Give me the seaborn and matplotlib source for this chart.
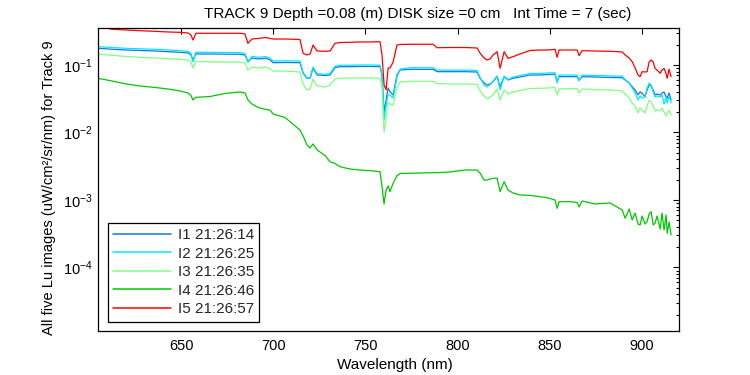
import numpy as np
import pandas as pd
import matplotlib
matplotlib.use("Agg")
import matplotlib.pyplot as plt
import seaborn as sns
from matplotlib.lines import Line2D
from matplotlib.ticker import LogLocator, NullFormatter, LogFormatterSciNotation

# ---------------- data ----------------
wavelength_nm = [605.0, 612.6, 620.2, 627.8, 635.9, 643.0, 649.5, 653.8, 655.4, 656.5,
                 658.1, 665.7, 673.9, 682.0, 684.7, 686.3, 688.5, 691.8, 696.1, 698.3,
                 699.9, 706.4, 714.5, 716.2, 718.3, 720.0, 721.6, 723.8, 728.1, 730.8,
                 733.5, 736.2, 741.6, 747.1, 752.5, 757.9, 759.0, 760.1, 761.2, 762.3,
                 763.3, 765.0, 767.1, 768.8, 774.2, 779.6, 786.7, 788.8, 795.9, 804.0,
                 810.5, 812.2, 814.3, 815.9, 817.6, 819.2, 821.4, 823.0, 825.2, 827.3,
                 830.0, 833.8, 839.3, 844.7, 849.0, 852.8, 853.9, 855.0, 861.0, 864.8,
                 865.8, 867.5, 874.5, 882.6, 889.2, 890.8, 893.0, 894.6, 896.2, 897.8,
                 898.9, 900.0, 901.6, 902.7, 903.8, 904.9, 906.0, 907.0, 908.1, 909.8,
                 910.8, 911.9, 913.0, 913.6, 914.6, 915.7]

# log10 of Lu (uW/cm^2/sr/nm)
log10_i1 = [-0.753, -0.766, -0.778, -0.785, -0.793, -0.803, -0.812, -0.822, -0.852, -0.926,
            -0.837, -0.837, -0.840, -0.841, -0.852, -0.951, -0.896, -0.911, -0.901, -0.926,
            -0.966, -0.963, -0.966, -1.123, -1.197, -1.193, -1.049, -1.148, -1.156, -1.148,
            -1.040, -1.025, -1.025, -1.022, -1.022, -1.025, -1.148, -1.696, -1.519, -1.341,
            -1.396, -1.444, -1.148, -1.074, -1.064, -1.064, -1.064, -1.099, -1.099, -1.099,
            -1.104, -1.197, -1.267, -1.296, -1.281, -1.247, -1.173, -1.321, -1.173, -1.222,
            -1.197, -1.178, -1.148, -1.148, -1.141, -1.138, -1.247, -1.173, -1.173, -1.173,
            -1.222, -1.173, -1.178, -1.185, -1.188, -1.222, -1.267, -1.321, -1.370, -1.444,
            -1.400, -1.419, -1.470, -1.370, -1.296, -1.311, -1.370, -1.444, -1.430, -1.444,
            -1.415, -1.400, -1.474, -1.489, -1.415, -1.519]

log10_i2 = [-0.728, -0.741, -0.753, -0.760, -0.768, -0.778, -0.787, -0.797, -0.830, -0.956,
            -0.812, -0.812, -0.815, -0.816, -0.830, -0.960, -0.871, -0.886, -0.876, -0.901,
            -0.941, -0.938, -0.941, -1.110, -1.190, -1.190, -1.030, -1.130, -1.136, -1.128,
            -1.020, -1.003, -1.003, -1.000, -1.000, -1.003, -1.160, -1.815, -1.593, -1.444,
            -1.444, -1.489, -1.178, -1.060, -1.041, -1.041, -1.041, -1.076, -1.076, -1.076,
            -1.081, -1.190, -1.296, -1.326, -1.290, -1.240, -1.160, -1.370, -1.165, -1.215,
            -1.180, -1.155, -1.125, -1.125, -1.118, -1.115, -1.267, -1.150, -1.150, -1.150,
            -1.235, -1.150, -1.155, -1.162, -1.165, -1.215, -1.267, -1.341, -1.415, -1.519,
            -1.459, -1.489, -1.474, -1.341, -1.267, -1.296, -1.400, -1.474, -1.459, -1.474,
            -1.444, -1.578, -1.489, -1.563, -1.459, -1.563]

log10_i3 = [-0.841, -0.856, -0.874, -0.886, -0.896, -0.907, -0.916, -0.926, -0.956, -1.044,
            -0.948, -0.953, -0.956, -0.960, -0.970, -1.074, -1.030, -1.044, -1.030, -1.059,
            -1.089, -1.089, -1.104, -1.281, -1.370, -1.356, -1.207, -1.311, -1.326, -1.296,
            -1.207, -1.197, -1.193, -1.193, -1.193, -1.193, -1.341, -1.993, -1.785, -1.548,
            -1.578, -1.593, -1.341, -1.252, -1.241, -1.241, -1.241, -1.274, -1.281, -1.281,
            -1.289, -1.385, -1.459, -1.504, -1.474, -1.444, -1.356, -1.519, -1.370, -1.430,
            -1.400, -1.378, -1.348, -1.345, -1.341, -1.333, -1.444, -1.356, -1.348, -1.348,
            -1.415, -1.356, -1.363, -1.370, -1.385, -1.430, -1.489, -1.563, -1.607, -1.711,
            -1.637, -1.667, -1.711, -1.607, -1.519, -1.548, -1.607, -1.681, -1.667, -1.681,
            -1.637, -1.696, -1.756, -1.711, -1.667, -1.741]

log10_i4 = [-1.197, -1.237, -1.281, -1.311, -1.333, -1.356, -1.385, -1.415, -1.452, -1.519,
            -1.479, -1.467, -1.422, -1.400, -1.415, -1.519, -1.578, -1.630, -1.659, -1.667,
            -1.726, -1.778, -1.963, -2.052, -2.185, -2.230, -2.170, -2.259, -2.341, -2.433,
            -2.459, -2.507, -2.541, -2.556, -2.566, -2.581, -2.803, -3.059, -2.852, -2.793,
            -2.877, -2.753, -2.640, -2.607, -2.604, -2.600, -2.596, -2.596, -2.585, -2.556,
            -2.556, -2.604, -2.704, -2.704, -2.689, -2.679, -2.679, -2.877, -2.729, -2.852,
            -2.896, -2.926, -2.933, -2.951, -2.970, -3.000, -3.123, -3.025, -3.025, -3.037,
            -3.104, -3.015, -3.059, -3.044, -3.148, -3.271, -3.133, -3.296, -3.193, -3.356,
            -3.370, -3.237, -3.356, -3.321, -3.207, -3.173, -3.370, -3.345, -3.237, -3.430,
            -3.193, -3.444, -3.222, -3.493, -3.326, -3.519]

log10_i5 = [-0.422, -0.471, -0.481, -0.492, -0.501, -0.511, -0.516, -0.526, -0.556, -0.630,
            -0.530, -0.530, -0.530, -0.530, -0.541, -0.679, -0.615, -0.607, -0.593, -0.607,
            -0.615, -0.615, -0.622, -0.827, -0.852, -0.837, -0.704, -0.793, -0.797, -0.793,
            -0.679, -0.667, -0.664, -0.659, -0.659, -0.655, -0.852, -1.296, -1.370, -1.044,
            -1.044, -0.956, -0.704, -0.696, -0.693, -0.693, -0.693, -0.744, -0.741, -0.741,
            -0.748, -0.827, -0.896, -0.926, -0.911, -0.852, -0.803, -1.049, -0.803, -0.901,
            -0.877, -0.837, -0.785, -0.778, -0.778, -0.767, -0.886, -0.778, -0.778, -0.778,
            -0.862, -0.788, -0.793, -0.797, -0.807, -0.852, -0.896, -0.951, -1.044, -1.148,
            -1.173, -1.099, -1.104, -1.099, -0.956, -0.926, -0.956, -1.049, -1.074, -1.123,
            -1.074, -1.049, -1.133, -1.197, -1.064, -1.173]

series_labels = ["I1 21:26:14", "I2 21:26:25", "I3 21:26:35", "I4 21:26:46", "I5 21:26:57"]
series_colors = ["#1476e0", "#00e8ff", "#80ff80", "#00c800", "#ff0000"]
x_ticks = [650, 700, 750, 800, 850, 900]
y_ticks = [1e-4, 1e-3, 1e-2, 1e-1]

title_text = "TRACK 9 Depth =0.08 (m) DISK size =0 cm   Int Time = 7 (sec)"
xlabel_text = "Wavelength (nm)"
ylabel_text = "All five Lu images (uW/cm\u00b2/sr/nm) for Track 9"

# ---------------- build long-form table ----------------
all_logs = [log10_i1, log10_i2, log10_i3, log10_i4, log10_i5]
frames = []
for lab, lg in zip(series_labels, all_logs):
    frames.append(pd.DataFrame({"wavelength": wavelength_nm,
                                "lu": 10.0 ** np.asarray(lg),
                                "image": lab}))
df = pd.concat(frames, ignore_index=True)

# ---------------- style ----------------
sns.set_theme(style="white")
plt.rcParams["font.family"] = ["Liberation Sans", "DejaVu Sans"]
plt.rcParams["mathtext.fontset"] = "custom"
plt.rcParams["mathtext.rm"] = "Liberation Sans"
plt.rcParams["mathtext.it"] = "Liberation Sans:italic"
plt.rcParams["mathtext.bf"] = "Liberation Sans:bold"
plt.rcParams["axes.edgecolor"] = "black"

W, H = 750, 375
fig = plt.figure(figsize=(W / 100, H / 100), dpi=100)
ax_l, ax_r, ax_t, ax_b = 98, 679, 28, 331
ax = fig.add_axes([ax_l / W, 1 - ax_b / H, (ax_r - ax_l) / W, (ax_b - ax_t) / H])

sns.lineplot(data=df, x="wavelength", y="lu", hue="image",
             palette=dict(zip(series_labels, series_colors)),
             hue_order=series_labels, estimator=None, sort=False,
             linewidth=0.9, ax=ax, legend=False)

ax.set_yscale("log")
ax.set_xlim(605, 920)
ax.set_ylim(10 ** -4.941, 10 ** -0.452)
ax.set_xticks(x_ticks)
ax.set_xticklabels([str(v) for v in x_ticks])
ax.yaxis.set_major_locator(LogLocator(base=10, subs=(1.0,)))
ax.yaxis.set_minor_locator(LogLocator(base=10, subs=np.arange(2, 10)))
ax.yaxis.set_major_formatter(LogFormatterSciNotation())
ax.yaxis.set_minor_formatter(NullFormatter())
ax.set_yticks(y_ticks)

for sp in ax.spines.values():
    sp.set_visible(True)
    sp.set_color("black")
    sp.set_linewidth(0.9)

ax.tick_params(which="both", direction="in", top=True, right=True,
               labeltop=False, labelright=False, colors="black",
               labelsize=10.5, width=0.8)
ax.tick_params(which="major", length=4.2)
ax.tick_params(which="minor", length=2.4)
ax.tick_params(axis="x", which="minor", bottom=False, top=False)
ax.tick_params(axis="x", pad=6)
ax.tick_params(axis="y", pad=4)

ax.set_xlabel(xlabel_text, fontsize=11, color="black")
ax.xaxis.label.set_va("center")
ax.xaxis.set_label_coords((395 - ax_l) / (ax_r - ax_l), -(365 - ax_b) / (ax_b - ax_t))
ax.set_ylabel(ylabel_text, fontsize=10.5, color="black")
ax.yaxis.label.set_va("center")
ax.yaxis.set_label_coords((49 - ax_l) / (ax_r - ax_l), 1 - (188 - ax_t) / (ax_b - ax_t))

fig.text(418 / W, 1 - 18.3 / H, title_text, ha="center", va="baseline",
         fontsize=11, color="black")

handles = [Line2D([0], [0], color=c, lw=1.1) for c in series_colors]
leg = ax.legend(handles, series_labels, loc="lower left",
                bbox_to_anchor=((108 - ax_l) / (ax_r - ax_l), (ax_b - 321.7) / (ax_b - ax_t)),
                borderaxespad=0, fontsize=11, frameon=True, fancybox=False,
                handlelength=3.8, handletextpad=0.4, labelspacing=0.3,
                borderpad=0.35, edgecolor="black")
leg.get_frame().set_linewidth(0.9)
leg.get_frame().set_facecolor("white")
leg.get_frame().set_alpha(1.0)

fig.savefig("out.png", dpi=100, facecolor="white")
